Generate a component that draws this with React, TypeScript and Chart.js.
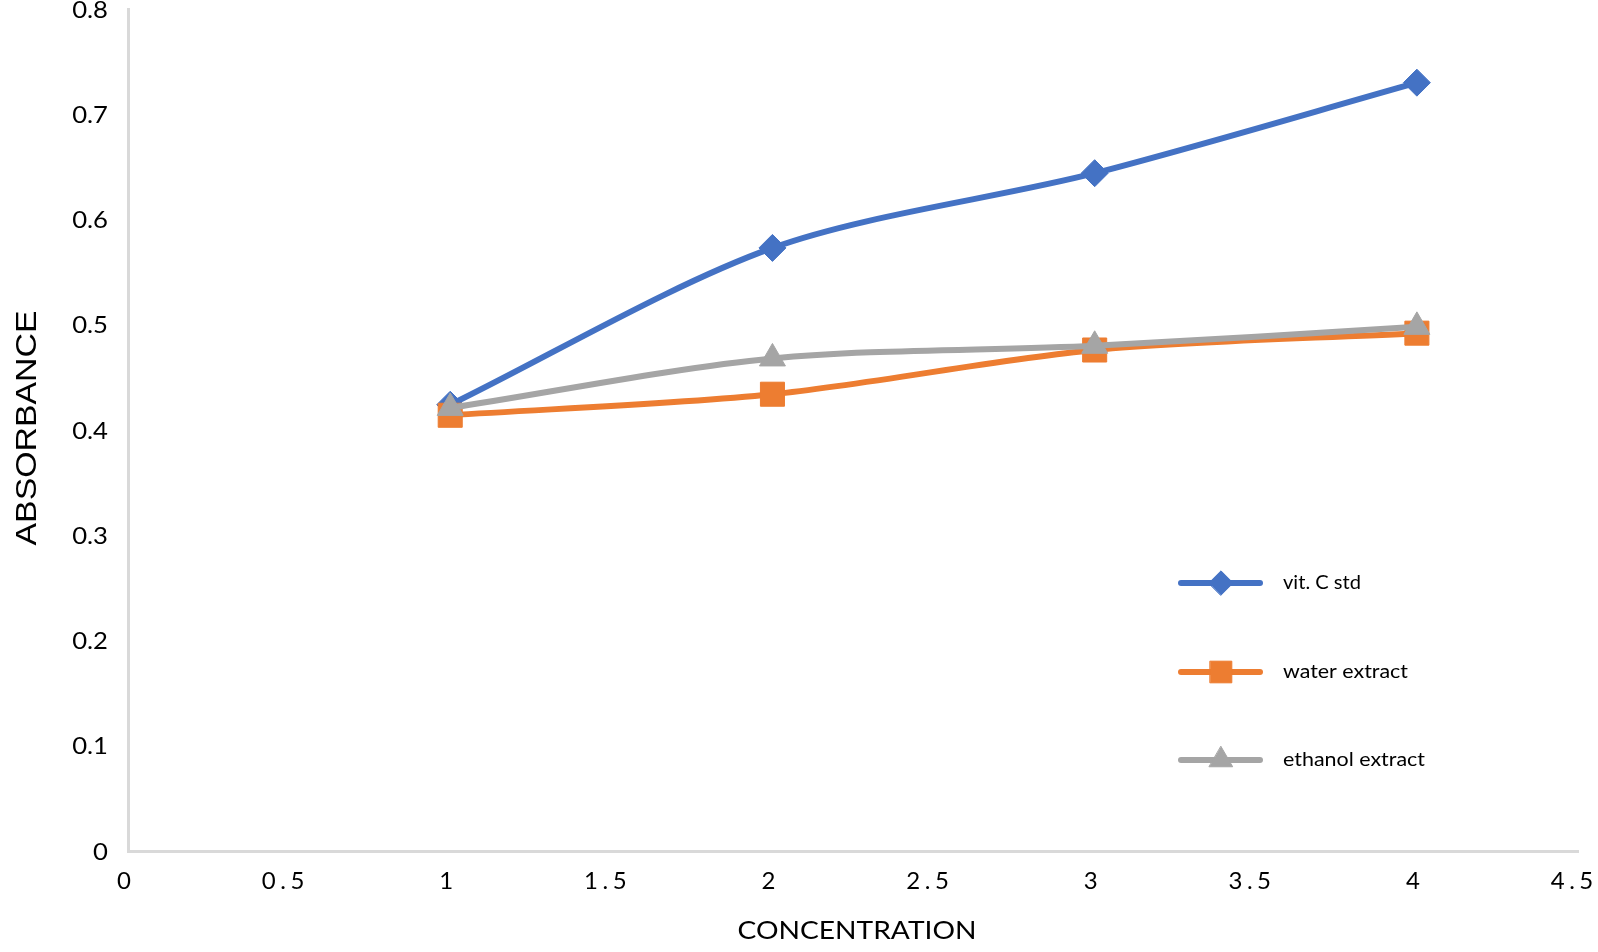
import { useEffect, useRef } from 'react';
import { Chart, registerables } from 'chart.js';
import { drawPoint } from 'chart.js/helpers';

Chart.register(...registerables);

// ---- data ----
const concentrations = [1, 2, 3, 4];
const vitCValues = [0.424, 0.573, 0.644, 0.730];
const waterValues = [0.414, 0.434, 0.476, 0.492];
const ethanolValues = [0.421, 0.468, 0.480, 0.498];
const seriesNames = ['vit. C std', 'water extract', 'ethanol extract'];
const xTitle = 'CONCENTRATION';
const yTitle = 'ABSORBANCE';
const xMin = 0;
const xMax = 4.5;
const xStep = 0.5;
const yMin = 0;
const yMax = 0.8;
const yStep = 0.1;

const COLORS = ['#4472C4', '#ED7D31', '#A5A5A5'];
const STYLES = ['rectRot', 'rect', 'triangle'];
const RADII = [13.5, 17, 15];

function drawStretched(
  ctx: CanvasRenderingContext2D,
  text: string,
  x: number,
  y: number,
  font: string,
  opts: { sx?: number; width?: number; align?: CanvasTextAlign; rotate?: number }
) {
  ctx.save();
  ctx.font = font;
  ctx.letterSpacing = '0px';
  const w = ctx.measureText(text).width;
  const sx = opts.width ? opts.width / w : opts.sx || 1;
  ctx.translate(x, y);
  if (opts.rotate) ctx.rotate(opts.rotate);
  ctx.scale(sx, 1);
  ctx.textAlign = opts.align || 'center';
  ctx.textBaseline = 'middle';
  ctx.fillText(text, 0, 0);
  ctx.restore();
}

const overlayPlugin = {
  id: 'overlay',
  afterDraw(chart: any) {
    const ctx: CanvasRenderingContext2D = chart.ctx;
    const xs = chart.scales.x;
    const ys = chart.scales.y;
    ctx.save();
    ctx.fillStyle = '#000';
    ctx.textAlign = 'center';
    ctx.textBaseline = 'middle';
    ctx.font = '24px Lato';
    for (const t of xs.ticks) {
      const label = String(t.label);
      const multi = label.length > 1;
      const sp = multi ? 4.5 : 0;
      ctx.letterSpacing = sp + 'px';
      ctx.fillText(label, xs.getPixelForValue(t.value) - 4 - (multi ? 2 : 0) + sp / 2, 881);
    }
    ctx.letterSpacing = '0px';
    for (const t of ys.ticks) {
      drawStretched(ctx, String(t.label), 108, ys.getPixelForValue(t.value) + 1, '24px Lato', { sx: 1.07, align: 'right' });
    }
    drawStretched(ctx, xTitle, 857, 931, '24.5px Lato', { width: 239 });
    drawStretched(ctx, yTitle, 27.5, 428, '29px "Liberation Sans"', { width: 235, rotate: -Math.PI / 2 });
    const rows = [583, 672, 760];
    const widths = [78, 125, 142];
    for (let i = 0; i < 3; i++) {
      const y = rows[i];
      ctx.strokeStyle = COLORS[i];
      ctx.fillStyle = COLORS[i];
      ctx.lineWidth = 6;
      ctx.lineCap = 'round';
      ctx.beginPath();
      ctx.moveTo(1181, y);
      ctx.lineTo(1260, y);
      ctx.stroke();
      ctx.lineWidth = 1;
      drawPoint(ctx, { pointStyle: STYLES[i], radius: RADII[i] * 0.9, borderWidth: 1, rotation: 0 } as any, 1221, y);
      ctx.fillStyle = '#000';
      drawStretched(ctx, seriesNames[i], 1283, y, '18.5px Lato', { width: widths[i], align: 'left' });
    }
    ctx.restore();
  },
};

export default function App() {
  const ref = useRef<HTMLCanvasElement | null>(null);
  useEffect(() => {
    if (!ref.current) return;
    const series = [vitCValues, waterValues, ethanolValues];
    const chart = new Chart(ref.current, {
      type: 'line',
      data: {
        datasets: series.map((vals, i) => ({
          label: seriesNames[i],
          data: concentrations.map((x, j) => ({ x, y: vals[j] })),
          borderColor: COLORS[i],
          backgroundColor: COLORS[i],
          pointBackgroundColor: COLORS[i],
          pointBorderColor: COLORS[i],
          pointBorderWidth: 1,
          pointStyle: STYLES[i] as any,
          pointRadius: RADII[i],
          borderWidth: 6,
          tension: 0.3,
          fill: false,
          order: 3 - i,
        })),
      },
      options: {
        animation: false,
        responsive: true,
        maintainAspectRatio: false,
        layout: { autoPadding: false, padding: { top: 9, right: 20, bottom: 0, left: 0 } },
        plugins: { legend: { display: false }, tooltip: { enabled: false } },
        scales: {
          x: {
            type: 'linear',
            min: xMin,
            max: xMax,
            ticks: {
              stepSize: xStep,
              color: 'rgba(0,0,0,0)',
              font: { family: 'Lato', size: 24, lineHeight: 0.5 },
              callback: (v: any) => String(Number(v)),
            },
            grid: { color: 'rgba(0,0,0,0)', drawTicks: false },
            border: { display: true, color: '#d9d9d9', width: 3 },
            afterFit: (s: any) => {
              s.height = 101;
              s.paddingLeft = 0;
              s.paddingRight = 0;
            },
          },
          y: {
            type: 'linear',
            min: yMin,
            max: yMax,
            ticks: {
              stepSize: yStep,
              color: 'rgba(0,0,0,0)',
              padding: 20,
              font: { family: 'Lato', size: 24, lineHeight: 0.5 },
            },
            grid: { color: 'rgba(0,0,0,0)', drawTicks: false },
            border: { display: true, color: '#d9d9d9', width: 3 },
            afterFit: (s: any) => {
              s.width = 128;
              s.paddingTop = 0;
              s.paddingBottom = 0;
            },
          },
        },
      },
      plugins: [overlayPlugin],
    });
    return () => chart.destroy();
  }, []);
  return (
    <div style={{ position: 'fixed', left: 0, top: 0, width: 1598, height: 952, background: '#fff' }}>
      <canvas ref={ref} />
    </div>
  );
}
